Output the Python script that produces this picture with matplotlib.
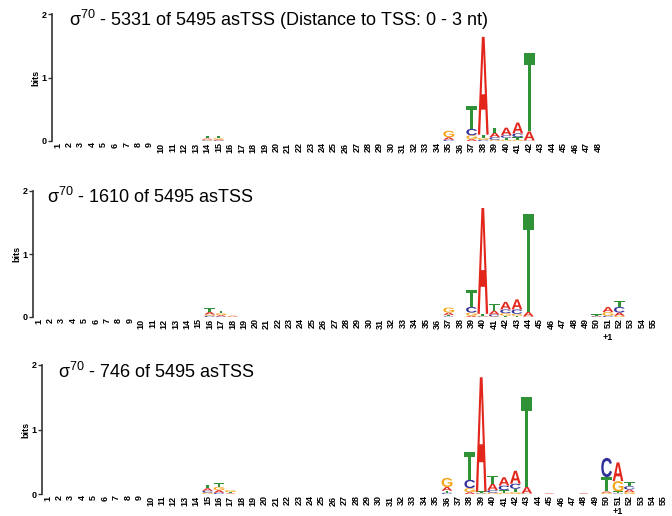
import matplotlib
matplotlib.use('Agg')
import matplotlib.pyplot as plt
from matplotlib.textpath import TextPath
from matplotlib.patches import PathPatch
from matplotlib.font_manager import FontProperties
from matplotlib.transforms import Affine2D

plt.rcParams['font.family'] = ['Liberation Sans', 'DejaVu Sans']
plt.rcParams['mathtext.fontset'] = 'custom'
plt.rcParams['mathtext.rm'] = 'Liberation Sans'
plt.rcParams['mathtext.default'] = 'regular'

# Panel titles
titles = [
    r'σ$^{70}$ - 5331 of 5495 asTSS (Distance to TSS: 0 - 3 nt)',
    r'σ$^{70}$ - 1610 of 5495 asTSS',
    r'σ$^{70}$ - 746 of 5495 asTSS',
]
n_positions = [48, 55, 55]

# Logo columns: position, letters stacked bottom -> top, information per letter (bits)
p1_pos = [14, 15, 35, 37, 38, 39, 40, 41, 42]
p1_letters = ['CGAT', 'CAGT', 'CAG', 'AGCT', 'CGTA', 'GCAT', 'GTCA', 'GTCA', 'CGAT']
p1_bits = [
    [0.01, 0.015, 0.015, 0.04],
    [0.01, 0.015, 0.02, 0.035],
    [0.02, 0.04, 0.10],
    [0.03, 0.06, 0.10, 0.36],
    [0.02, 0.03, 0.05, 1.54],
    [0.02, 0.04, 0.07, 0.08],
    [0.02, 0.03, 0.04, 0.12],
    [0.02, 0.04, 0.06, 0.17],
    [0.005, 0.005, 0.14, 1.24],
]

p2_pos = [16, 17, 18, 37, 39, 40, 41, 42, 43, 44, 50, 51, 52]
p2_letters = ['CGAT', 'CAGT', 'GA', 'CTAG', 'AGCT', 'CGTA', 'GCAT', 'TGCA', 'TGCA', 'CGAT', 'CAT', 'CGA', 'GACT']
p2_bits = [
    [0.02, 0.02, 0.04, 0.06],
    [0.01, 0.02, 0.03, 0.04],
    [0.01, 0.01],
    [0.01, 0.02, 0.04, 0.08],
    [0.02, 0.05, 0.09, 0.27],
    [0.01, 0.01, 0.03, 1.68],
    [0.01, 0.03, 0.06, 0.10],
    [0.02, 0.04, 0.06, 0.12],
    [0.02, 0.03, 0.07, 0.16],
    [0.005, 0.005, 0.07, 1.55],
    [0.01, 0.01, 0.02],
    [0.02, 0.06, 0.08],
    [0.02, 0.05, 0.09, 0.10],
]

p3_pos = [15, 16, 17, 36, 38, 39, 40, 41, 42, 43, 45, 48, 50, 51, 52]
p3_letters = ['GCAT', 'CAGT', 'ATG', 'CTAG', 'AGCT', 'CGTA', 'GCAT', 'GTCA', 'GTCA', 'CGAT', 'A', 'A', 'GATC', 'CTGA', 'GACT']
p3_bits = [
    [0.02, 0.03, 0.04, 0.05],
    [0.02, 0.04, 0.05, 0.06],
    [0.01, 0.02, 0.03],
    [0.02, 0.03, 0.06, 0.14],
    [0.03, 0.06, 0.13, 0.43],
    [0.01, 0.01, 0.02, 1.77],
    [0.02, 0.04, 0.10, 0.12],
    [0.02, 0.04, 0.07, 0.13],
    [0.03, 0.05, 0.08, 0.20],
    [0.005, 0.005, 0.10, 1.40],
    [0.01],
    [0.01],
    [0.02, 0.02, 0.22, 0.30],
    [0.01, 0.03, 0.16, 0.29],
    [0.03, 0.04, 0.05, 0.06],
]

panel_pos = [p1_pos, p2_pos, p3_pos]
panel_letters = [p1_letters, p2_letters, p3_letters]
panel_bits = [p1_bits, p2_bits, p3_bits]

LETTER_COLORS = {'A': '#e2261c', 'C': '#33309a', 'G': '#f5a418', 'T': '#2f9236'}
LOGO_FONT = FontProperties(family='Liberation Sans', weight='bold')

W, H = 672, 516
# axes boxes in pixels: left, right, y of 0 bits, y of 2 bits
boxes = [
    (52.0, 604.0, 141, 14),
    (33.3, 659.2, 317, 191),
    (42.3, 669.3, 494, 365),
]
title_xy = [(69, 26), (47, 203), (58, 378)]
plus_one_y = [None, 337, 511]


def draw_letter(ax, ch, x, y0, width, height):
    tp = TextPath((0, 0), ch, size=1, prop=LOGO_FONT)
    bb = tp.get_extents()
    tr = (Affine2D().translate(-bb.x0, -bb.y0)
          .scale(width / bb.width, height / bb.height)
          .translate(x - width / 2, y0))
    ax.add_patch(PathPatch(tr.transform_path(tp), facecolor=LETTER_COLORS[ch],
                           edgecolor='none'))


fig = plt.figure(figsize=(W / 100, H / 100), dpi=100)

for i in range(3):
    left, right, y0, y2 = boxes[i]
    ax = fig.add_axes([left / W, 1 - y0 / H, (right - left) / W, (y0 - y2) / H])
    n = n_positions[i]
    ax.set_xlim(0.5, n + 0.5)
    ax.set_ylim(0, 2)

    for pos, letters, bits in zip(panel_pos[i], panel_letters[i], panel_bits[i]):
        base = 0.0
        for ch, h in zip(letters, bits):
            draw_letter(ax, ch, pos, base, 0.94, h)
            base += h

    for s in ['top', 'right', 'bottom']:
        ax.spines[s].set_visible(False)
    ax.spines['left'].set_color('#333333')
    ax.spines['left'].set_linewidth(1.2)
    ax.set_yticks([0, 1, 2])
    ax.set_yticklabels(['0', '1', '2'], fontsize=6.5, fontweight='bold')
    ax.tick_params(axis='y', length=3, width=1, pad=1, color='#333333')
    ax.set_ylabel('bits', fontsize=6.5, fontweight='bold', labelpad=1)
    ax.set_xticks(range(1, n + 1))
    ax.set_xticklabels([str(k) for k in range(1, n + 1)], rotation=90,
                       fontsize=6.5, fontweight='bold')
    ax.tick_params(axis='x', length=0, pad=1)

    tx, ty = title_xy[i]
    fig.text(tx / W, 1 - ty / H, titles[i], fontsize=13, va='baseline', ha='left')

    if plus_one_y[i] is not None:
        xp = left + (51 - 0.5) * (right - left) / n
        fig.text(xp / W, 1 - plus_one_y[i] / H, '+1', fontsize=6.5,
                 fontweight='bold', ha='center', va='center')

fig.savefig('out.png', dpi=100)
